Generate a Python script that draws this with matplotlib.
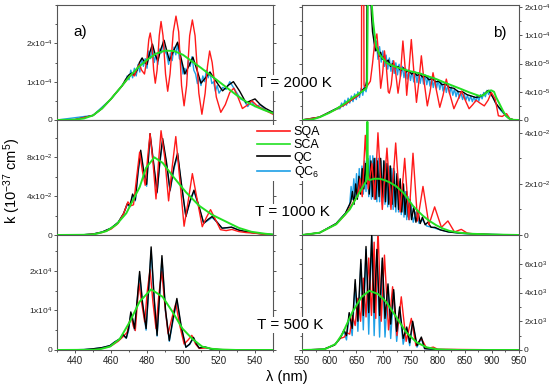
import matplotlib
matplotlib.use("Agg")
import matplotlib.pyplot as plt
from matplotlib.lines import Line2D
from matplotlib.ticker import FixedLocator, MultipleLocator

plt.rcParams["font.family"] = ["Liberation Sans", "DejaVu Sans"]
plt.rcParams["mathtext.fontset"] = "custom"
plt.rcParams["mathtext.rm"] = "Liberation Sans"
plt.rcParams["mathtext.it"] = "Liberation Sans:italic"

# ---- T = 2000 K, left (units 1e-4) ----
tl_sca_nm = [430, 440, 445, 450, 455, 460, 465, 470, 475, 480, 485, 490, 495, 500, 505, 510, 515, 520, 525, 530, 535, 540, 545, 550]
tl_sca_k = [0, 0.01, 0.04, 0.12, 0.3, 0.55, 0.83, 1.12, 1.37, 1.57, 1.73, 1.81, 1.8, 1.7, 1.53, 1.36, 1.18, 1.0, 0.82, 0.64, 0.48, 0.36, 0.26, 0.18]
tl_sqa_nm = [430, 440, 450, 455, 460, 463, 466, 468, 470, 471.5, 473, 474.5, 475.8, 477, 478.6, 480, 481, 481.8, 482.7, 483.7,
             484.6, 485.6, 486.8, 487.8, 488.9, 490.3, 491.5, 492.8, 494.6, 496.1, 497.6, 499.2, 500.6, 502, 503.7, 505.2,
             506.7, 508.8, 510.5, 512.3, 513.6, 514.8, 516.2, 518.5, 521, 523.5, 526, 528.2, 530.5, 533, 535.5, 538.3, 541,
             544, 547, 550]
tl_sqa_k = [0, 0.01, 0.12, 0.3, 0.55, 0.72, 0.88, 1.0, 1.12, 1.2, 1.15, 1.35, 1.45, 1.3, 1.2, 1.6, 2.1, 2.27, 2.0, 1.3,
            0.96, 1.3, 2.2, 2.57, 2.2, 1.2, 0.75, 1.2, 2.3, 2.71, 2.3, 0.9, 0.37, 0.9, 2.2, 2.61,
            2.2, 0.7, 0.15, 0.7, 1.4, 1.8, 1.5, 0.6, 0.2, 0.4, 0.72, 0.83, 0.6, 0.3, 0.38, 0.5, 0.38,
            0.3, 0.22, 0.15]
tl_qc_nm = [430, 440, 450, 455, 460, 463, 466, 468, 470, 471.5, 473, 474.5, 475.8, 477.3, 478.7, 480, 481.5, 483, 484.6,
            486, 487.7, 489.5, 491, 492.5, 494.7, 497, 499, 501, 503.2, 505.5, 507.8, 510, 512.5, 515, 518.5, 522, 525,
            528, 531.5, 535, 537.5, 540, 543, 546, 550]
tl_qc_k = [0, 0.01, 0.12, 0.3, 0.55, 0.72, 0.88, 1.05, 1.18, 1.22, 1.18, 1.3, 1.5, 1.62, 1.5, 1.45, 1.75, 1.98, 1.7,
           1.54, 1.85, 2.08, 1.8, 1.55, 1.8, 2.03, 1.6, 1.2, 1.4, 1.64, 1.3, 0.96, 1.1, 1.25, 1.0, 0.76, 0.9,
           1.0, 0.75, 0.45, 0.5, 0.55, 0.4, 0.3, 0.2]
tl_qc6_nm = [430, 450, 460, 465, 468, 469, 470, 471, 472, 473, 474, 475, 476, 477, 478, 479, 480, 481, 482, 483, 484, 485,
             486, 487, 488, 489, 490, 491, 492, 493, 494, 495, 496, 497, 498, 499, 500, 501, 502, 503, 504, 505, 506,
             507, 508, 509, 510, 511, 512, 513, 514, 515, 516, 517, 518, 519, 520, 522, 524, 526, 528, 530, 532, 534,
             536, 538, 540, 543, 546, 550]
tl_qc6_k = [0, 0.12, 0.55, 0.83, 1.0, 1.15, 1.05, 1.3, 1.1, 1.35, 1.15, 1.45, 1.25, 1.6, 1.4, 1.6, 1.35, 1.8, 1.6, 1.95, 1.5, 1.7,
            1.45, 1.85, 1.75, 2.05, 1.8, 1.7, 1.45, 1.75, 1.55, 1.9, 1.7, 2.0, 1.6, 1.55, 1.2, 1.35, 1.2, 1.55, 1.4, 1.65, 1.3,
            1.2, 0.95, 1.1, 0.9, 1.15, 1.0, 1.3, 1.1, 1.25, 0.95, 1.0, 0.75, 0.9, 0.7, 0.85, 0.8, 1.0, 0.85, 0.7, 0.55, 0.5,
            0.35, 0.5, 0.35, 0.4, 0.25, 0.2]

# ---- T = 2000 K, right (units 1e-5) ----
tr_sca_nm = [550, 570, 582.6, 600, 613, 630, 644, 660, 668.6, 670, 671.5, 673, 675, 678, 681, 684, 687, 693, 705.5, 720, 736,
             750, 767, 782, 797.6, 813, 828, 843, 859, 870, 877.5, 884, 890, 895, 899, 904, 908, 914, 920.5, 926, 933, 940, 950]
tr_sca_k = [0, 0.1, 0.4, 1.0, 1.55, 2.4, 3.2, 4.0, 4.5, 5.0, 20, 30, 30, 17, 14, 12, 10.3, 9.3, 8.1, 7.6, 7.2,
            6.9, 6.6, 6.2, 5.8, 5.3, 4.85, 4.4, 3.9, 3.6, 3.4, 3.5, 3.9, 4.15, 4.2, 4.0, 3.2, 2.3, 1.3, 0.6, 0.15, 0.02, 0]
tr_sqa_nm = [550, 582, 613, 630, 644, 652, 657, 659.5, 660.3, 663.5, 664.3, 666, 670, 676, 680, 684, 688, 691.5, 695, 698.5,
             702, 705.5, 709, 711, 714.5, 719, 723, 727, 731, 736, 740, 743, 747, 751.5, 756, 761, 765.5, 770, 775, 781,
             786, 791.5, 797, 804, 810, 816, 822, 830, 837, 844, 851, 858, 865, 871, 878, 886, 893, 899, 906, 912, 919,
             927, 933, 940, 950]
tr_sqa_k = [0, 0.4, 1.5, 2.2, 3.0, 3.4, 3.8, 4.2, 30, 30, 5.0, 4.7, 4.8, 5.5, 8, 11, 12.2, 9, 4.5, 6.5,
            9.8, 7.5, 4.0, 3.8, 5.0, 8.4, 6.5, 3.8, 6.0, 11.2, 7.5, 3.5, 7.0, 11.4, 7.0, 2.5, 5.5, 9.1, 5.5, 2.0,
            4.0, 6.7, 4.5, 1.8, 3.5, 5.8, 3.8, 1.6, 2.8, 4.1, 2.8, 1.6, 2.2, 2.8, 2.4, 2.0, 2.8, 3.9, 3.0, 0.6, 0.5,
            0.9, 0.2, 0.02, 0]
tr_qc_nm = [550, 582, 613, 630, 644, 655, 662, 667, 669, 670.5, 672, 674, 676, 678, 680, 683, 686, 689, 692, 695, 698, 701,
            705, 709, 713, 717, 722, 727, 732, 737, 742, 747, 752, 757, 762, 767, 772, 778, 784, 790, 796, 802, 808, 815,
            822, 830, 838, 846, 854, 862, 870, 878, 885, 890, 894, 898, 903, 908, 914, 920, 926, 932, 940, 950]
tr_qc_k = [0, 0.4, 1.6, 2.3, 3.0, 3.6, 4.3, 4.6, 5.5, 25, 30, 30, 20, 15, 12.5, 11, 9.8, 10.2, 9.0, 9.6, 8.6, 9.0,
           8.2, 8.5, 7.6, 8.0, 7.4, 7.6, 7.0, 7.4, 6.8, 7.0, 6.5, 6.8, 6.3, 6.5, 6.1, 6.2, 5.7, 5.9, 5.4, 5.5, 5.0, 5.1,
           4.6, 4.5, 4.0, 4.0, 3.6, 3.4, 3.2, 3.3, 3.6, 4.0, 4.2, 3.8, 3.0, 2.3, 1.7, 1.2, 0.6, 0.2, 0.02, 0]
tr_qc6_nm = [550, 582, 613, 620, 623, 626, 629, 632, 635, 638, 641, 644, 647, 650, 653, 656, 659, 662, 665, 668, 670, 672,
             675, 678, 681, 684, 687, 690, 693, 696, 699, 702, 705, 708, 711, 714, 717, 720, 723, 726, 729, 732, 735, 738,
             741, 744, 747, 750, 753, 756, 759, 762, 765, 768, 771, 774, 777, 780, 783, 786, 789, 792, 795, 798, 801, 804,
             807, 810, 813, 816, 819, 822, 825, 828, 831, 834, 837, 840, 843, 846, 849, 852, 855, 858, 861, 864, 867, 870,
             873, 876, 879, 882, 885, 888, 891, 894, 897, 900, 903, 906, 910, 916, 922, 930, 940, 950]
tr_qc6_k = [0, 0.4, 1.6, 1.6, 2.4, 1.9, 2.8, 2.1, 3.1, 2.4, 3.4, 2.6, 3.7, 2.9, 4.0, 3.2, 4.5, 3.5, 4.9, 4.0, 5.0, 30,
            30, 16, 13.5, 9.8, 11.2, 8.6, 10.4, 8.2, 9.8, 7.6, 9.2, 7.2, 8.8, 6.9, 8.4, 6.6, 8.1, 6.4, 7.9, 6.2, 7.6, 6.0,
            7.3, 5.8, 7.1, 5.6, 6.9, 5.4, 6.8, 5.3, 6.7, 5.2, 6.6, 5.1, 6.4, 5.0, 6.2, 4.8, 6.0, 4.6, 5.9, 4.5, 5.7, 4.3,
            5.5, 4.1, 5.2, 3.9, 5.0, 3.7, 4.7, 3.5, 4.4, 3.3, 4.2, 3.1, 3.9, 2.9, 3.7, 2.8, 3.5, 2.7, 3.4, 2.6, 3.3, 2.6,
            3.4, 2.7, 3.6, 3.0, 3.9, 3.3, 4.2, 3.6, 4.1, 3.4, 3.2, 2.5, 2.0, 1.4, 0.9, 0.3, 0.02, 0]

# ---- T = 1000 K, left (units 1e-2) ----
ml_sca_nm = [430, 445, 450, 452, 457.5, 463, 468.5, 472.2, 475.9, 479.5, 484.1, 488.7, 494.2, 501.6, 509, 516.2, 523.6, 531, 538, 545.6, 550]
ml_sca_k = [0, 0.02, 0.06, 0.13, 0.4, 1.07, 2.23, 3.57, 4.9, 6.9, 7.97, 7.4, 6.07, 4.4, 3.0, 2.07, 1.4, 0.73, 0.33, 0.13, 0.05]
ml_sqa_nm = [430, 445, 450, 455, 460, 464, 467, 469.4, 471, 472.5, 474.3, 475.9, 477.5, 479, 480.4, 481.7, 483.3, 485,
             486.4, 487.8, 489.8, 492, 494, 496, 498.3, 500.6, 502.9, 505.2, 508, 510.7, 513, 515.3, 518, 520.8, 524,
             527.2, 531, 535, 540, 545, 550]
ml_sqa_k = [0, 0.02, 0.08, 0.25, 0.6, 1.2, 2.2, 3.4, 3.0, 3.1, 6.0, 8.5, 6.5, 5.1, 8.0, 10.4, 7.5, 3.7,
            7.5, 10.7, 8.0, 3.5, 7.0, 10.1, 5.5, 0.9, 3.5, 6.3, 3.5, 0.85, 1.8, 2.6, 1.6, 0.55, 0.45,
            0.57, 0.35, 0.25, 0.18, 0.08, 0.03]
ml_qc_nm = [430, 445, 450, 455, 460, 464, 467, 469, 470.5, 472, 473.5, 475, 476.5, 478, 479.8, 480.8, 481.7, 483.6, 485.6,
            487.1, 488.7, 490.8, 492.8, 495, 497, 499.3, 501.6, 503.9, 506.1, 508.8, 511.5, 513.9, 516.2, 519, 521.7,
            524.5, 527, 531, 535, 540, 545, 550]
ml_qc_k = [0, 0.03, 0.1, 0.3, 0.7, 1.3, 2.2, 3.2, 3.0, 4.2, 3.6, 6.5, 8.7, 6.8, 5.2, 8.0, 10.4, 7.5, 4.4,
           7.5, 9.9, 7.5, 4.6, 7.0, 8.4, 5.0, 1.9, 3.5, 4.6, 3.0, 1.2, 1.6, 1.9, 1.3, 0.7,
           0.75, 0.8, 0.5, 0.35, 0.2, 0.1, 0.04]
ml_qc6_nm = ml_qc_nm
ml_qc6_k = [0, 0.03, 0.1, 0.3, 0.7, 1.3, 2.2, 3.1, 2.9, 4.0, 3.5, 6.3, 8.4, 6.6, 5.0, 7.8, 10.1, 7.3, 4.3,
            7.3, 9.6, 7.3, 4.5, 6.8, 8.2, 4.9, 1.9, 3.4, 4.5, 2.9, 1.2, 1.5, 1.8, 1.3, 0.7,
            0.75, 0.8, 0.5, 0.35, 0.2, 0.1, 0.04]

# ---- T = 1000 K, right (units 1e-2) ----
mr_sca_nm = [550, 582.6, 613, 638, 656, 668.6, 669.5, 670.5, 671.5, 672.5, 674.7, 683, 693, 702, 711.6, 724, 736, 745, 754.6,
             764, 773, 785, 797.6, 810, 822, 840, 859, 900, 950]
mr_sca_k = [0, 0.09, 0.42, 1.0, 1.67, 2.12, 2.5, 4.43, 2.3, 2.18, 2.15, 2.2, 2.2, 2.15, 2.06, 1.9, 1.67, 1.42, 1.14,
            0.93, 0.75, 0.55, 0.38, 0.25, 0.16, 0.09, 0.05, 0.02, 0]
mr_sqa_nm = [550, 582.6, 613, 630, 645, 652, 657, 661, 666.7, 672, 679, 684, 690, 698, 706.6, 714, 722.7, 731, 739.3, 747,
             754.6, 763, 773, 784, 794.5, 807, 819, 831, 843.6, 855, 870, 900, 950]
mr_sqa_k = [0, 0.09, 0.42, 0.8, 1.3, 1.5, 2.2, 1.5, 3.9, 1.8, 2.8, 1.4, 4.0, 1.0, 3.4, 1.0, 3.6, 0.9, 3.0, 0.6,
            3.2, 0.55, 1.9, 0.4, 1.1, 0.3, 0.55, 0.12, 0.22, 0.07, 0.04, 0.01, 0]
mr_qc_nm = [550, 582.6, 613, 630, 640, 643, 646, 649, 652, 655, 658, 661, 664, 667, 669.5, 671, 674, 677, 680, 683, 686,
            689, 692, 695, 698, 701, 704, 707, 710, 713, 716, 719, 722, 725, 728, 731, 734, 737, 740, 743, 746, 749, 752,
            756, 760, 764, 768, 772, 777, 782, 788, 795, 805, 820, 840, 870, 900, 950]
mr_qc_k = [0, 0.09, 0.45, 0.85, 1.3, 1.7, 1.2, 2.0, 1.4, 2.3, 1.6, 2.6, 1.8, 2.8, 2.0, 3.0, 1.6, 2.9, 1.5, 3.0, 1.4,
           2.9, 1.5, 3.0, 1.4, 2.9, 1.3, 2.8, 1.2, 2.7, 1.2, 2.6, 1.1, 2.4, 1.0, 2.2, 0.9, 2.0, 0.8, 1.7, 0.7, 1.4, 0.6,
           1.1, 0.5, 0.9, 0.45, 0.7, 0.4, 0.5, 0.3, 0.3, 0.2, 0.12, 0.08, 0.04, 0.02, 0]
mr_qc6_nm = [550, 582.6, 613, 630, 638, 640.5, 643, 645.5, 648, 650.5, 653, 655.5, 658, 660.5, 663, 665.5, 668, 670.5, 673,
             675.5, 678, 680.5, 683, 685.5, 688, 690.5, 693, 695.5, 698, 700.5, 703, 705.5, 708, 710.5, 713, 715.5, 718,
             720.5, 723, 725.5, 728, 730.5, 733, 735.5, 738, 740.5, 743, 745.5, 748, 751, 755, 760, 766, 772, 780, 790,
             805, 820, 850, 900, 950]
mr_qc6_k = [0, 0.09, 0.45, 0.85, 1.2, 1.9, 1.4, 2.2, 1.5, 2.4, 1.5, 2.6, 1.7, 2.7, 1.6, 2.9, 1.7, 3.0, 1.5, 3.1,
            1.4, 3.1, 1.4, 3.0, 1.3, 3.0, 1.3, 2.9, 1.2, 2.9, 1.2, 2.8, 1.1, 2.7, 1.1, 2.6, 1.0, 2.5, 0.9, 2.3, 0.9,
            2.1, 0.8, 1.9, 0.7, 1.7, 0.6, 1.5, 0.6, 1.2, 0.5, 0.9, 0.45, 0.6, 0.35, 0.3, 0.2, 0.12, 0.05, 0.02, 0]

# ---- T = 500 K, left (units 1e4) ----
bl_sca_nm = [430, 450, 453.9, 459.4, 464.9, 470.4, 475.9, 482.3, 488.7, 494.2, 499.7, 505.2, 510.7, 516, 522, 530, 550]
bl_sca_k = [0, 0.005, 0.02, 0.085, 0.28, 0.71, 1.22, 1.53, 1.34, 0.96, 0.54, 0.28, 0.085, 0.03, 0.01, 0, 0]
bl_sqa_nm = [430, 450, 455, 460, 464, 467, 469, 470.2, 471.3, 472.4, 473.5, 474.5, 475.5, 477, 478.7, 480.2, 481.7, 483.3,
             485, 486.6, 488.2, 490, 491.7, 493.8, 496, 498.3, 500.6, 502.8, 504.9, 507, 509, 513, 520, 550]
bl_sqa_k = [0, 0.01, 0.04, 0.1, 0.22, 0.35, 0.45, 0.7, 0.83, 0.6, 0.49, 1.1, 1.68, 1.2, 0.71, 1.5, 2.03, 1.2,
            0.54, 1.4, 1.98, 1.1, 0.41, 0.8, 1.17, 0.6, 0.15, 0.25, 0.37, 0.15, 0.04, 0.05, 0.01, 0]
bl_qc_nm = [430, 445, 450, 455, 459.4, 462, 464.9, 466.7, 468.5, 469.8, 471, 472, 473.1, 474.6, 475.9, 477.5, 479.5, 481,
            482.3, 484, 485.6, 487, 488.3, 490.3, 492.4, 494.5, 496.6, 499, 501.6, 503.7, 505.8, 507.5, 509, 512, 516,
            520, 530, 550]
bl_qc_k = [0, 0.01, 0.03, 0.06, 0.11, 0.2, 0.28, 0.39, 0.3, 0.55, 0.96, 0.8, 0.54, 1.3, 1.98, 1.2, 0.54, 1.6,
           2.6, 1.3, 0.37, 1.4, 2.38, 1.0, 0.24, 0.8, 1.3, 0.6, 0.07, 0.15, 0.32, 0.15, 0.05, 0.08, 0.02,
           0.01, 0, 0]
bl_qc6_nm = bl_qc_nm
bl_qc6_k = [0, 0.01, 0.03, 0.06, 0.11, 0.2, 0.28, 0.37, 0.3, 0.5, 0.9, 0.75, 0.5, 1.25, 1.9, 1.15, 0.5, 1.55,
            2.5, 1.25, 0.35, 1.35, 2.3, 0.95, 0.22, 0.75, 1.25, 0.55, 0.07, 0.14, 0.3, 0.14, 0.05, 0.07, 0.02,
            0.01, 0, 0]

# ---- T = 500 K, right (units 1e3) ----
br_sca_nm = [550, 575, 593, 612, 624.4, 643, 660, 674, 690, 705, 723.6, 742, 761, 779.5, 798, 815, 840, 950]
br_sca_k = [0, 0.02, 0.07, 0.42, 1.12, 2.65, 3.7, 4.12, 3.9, 3.35, 2.3, 1.24, 0.54, 0.19, 0.05, 0.02, 0, 0]
br_qc_nm = [550, 590, 610, 620, 627.5, 632, 637, 642.5, 648, 653, 658.5, 663, 668, 673, 678.5, 683, 688, 693, 698, 703,
            708.5, 713.5, 719, 724.5, 730, 736.5, 743, 748.5, 754, 762, 770, 776, 785, 800, 950]
br_qc_k = [0, 0.05, 0.35, 0.8, 1.4, 1.0, 2.6, 1.5, 4.9, 2.0, 6.3, 2.4, 7.2, 2.6, 8.0, 2.6, 7.0, 2.4, 6.4, 2.2,
           4.6, 1.8, 4.2, 1.3, 3.0, 0.8, 1.6, 0.5, 2.0, 0.3, 0.9, 0.1, 0.08, 0.03, 0]
br_sqa_nm = [550, 590, 610, 620, 628, 633, 638, 643, 648, 653, 658, 663, 668, 673, 678, 683, 686, 690, 696, 702, 709.5, 717,
             725, 733, 742, 751.5, 760, 770, 780, 792, 800, 950]
br_sqa_k = [0, 0.05, 0.35, 0.8, 0.9, 1.2, 1.1, 2.4, 1.7, 3.6, 2.0, 5.0, 2.3, 6.4, 2.4, 7.5, 2.2, 8.5, 2.0, 6.6, 1.4, 4.4,
            1.0, 3.7, 0.6, 2.2, 0.3, 0.8, 0.1, 0.2, 0.05, 0]
br_qc6_nm = br_qc_nm
br_qc6_k = [0, 0.05, 0.35, 0.8, 1.3, 0.7, 2.5, 1.0, 4.6, 1.3, 6.0, 1.4, 7.0, 1.1, 7.9, 1.0, 6.8, 0.9, 6.2, 0.9,
            4.4, 0.8, 4.0, 0.6, 2.8, 0.4, 1.5, 0.3, 1.9, 0.2, 0.8, 0.1, 0.05, 0.02, 0]

# axis settings per panel: ylim top, tick values, tick labels (same units as data)
tl_ylim, tl_ticks, tl_labels = 3.0, [0, 1, 2], ["0", "1x10$^{-4}$", "2x10$^{-4}$"]
tr_ylim, tr_ticks, tr_labels = 16.3, [0, 4, 8, 12, 16], ["0", "4x10$^{-5}$", "8x10$^{-5}$", "1x10$^{-4}$", "2x10$^{-4}$"]
ml_ylim, ml_ticks, ml_labels = 11.8, [0, 4, 8], ["0", "4x10$^{-2}$", "8x10$^{-2}$"]
mr_ylim, mr_ticks, mr_labels = 4.5, [0, 2, 4], ["0", "2x10$^{-2}$", "4x10$^{-2}$"]
bl_ylim, bl_ticks, bl_labels = 2.9, [0, 1, 2], ["0", "1x10$^{4}$", "2x10$^{4}$"]
br_ylim, br_ticks, br_labels = 8.0, [0, 2, 4, 6], ["0", "2x10$^{3}$", "4x10$^{3}$", "6x10$^{3}$"]

left_ticks = [440, 460, 480, 500, 520, 540]
right_ticks = [550, 600, 650, 700, 750, 800, 850, 900, 950]
series_names = ["SQA", "SCA", "QC", "QC$_6$"]
COLORS = {"SQA": "#ff1a1a", "SCA": "#22e022", "QC": "#000000", "QC6": "#1ea0e6"}
AXIS_GREY = "#555555"

W, H = 550, 390
ROW_TOP = [5, 120, 235]
ROW_H = 115


def _panel(fig, x0, width, row, side, xlim, xticks, minor_x, curves, ylim, yticks, ylabels):
    ax = fig.add_axes([x0 / W, 1 - (ROW_TOP[row] + ROW_H) / H, width / W, ROW_H / H])
    qc6, sqa, qc, sca = curves
    red_z = 2 if row == 2 else 3.5
    ax.plot(*qc6, color=COLORS["QC6"], lw=1.0, zorder=1)
    ax.plot(*sqa, color=COLORS["SQA"], lw=1.0, zorder=red_z)
    ax.plot(*qc, color=COLORS["QC"], lw=1.0, zorder=3)
    ax.plot(*sca, color=COLORS["SCA"], lw=1.4, zorder=4)
    ax.set_xlim(*xlim)
    ax.set_ylim(0, ylim)
    ax.xaxis.set_major_locator(FixedLocator(xticks))
    ax.xaxis.set_minor_locator(MultipleLocator(minor_x))
    ax.yaxis.set_major_locator(FixedLocator(yticks))
    ax.yaxis.set_minor_locator(MultipleLocator((yticks[1] - yticks[0]) / 2))
    ax.set_yticklabels(ylabels)
    for spine in ax.spines.values():
        spine.set_color(AXIS_GREY)
        spine.set_linewidth(0.8)
    ax.tick_params(which="both", colors=AXIS_GREY, labelcolor="#222222", labelsize=6,
                   direction="out", width=0.7)
    ax.tick_params(which="major", length=2.5)
    ax.tick_params(which="minor", length=1.5)
    ax.tick_params(axis="y", which="both", left=True, right=True,
                   labelleft=(side == "left"), labelright=(side == "right"), pad=0.8)
    ax.tick_params(axis="x", which="both", labelbottom=(row == 2), pad=2)
    ax.tick_params(axis="x", labelsize=7)
    return ax


fig = plt.figure(figsize=(W / 100, H / 100), dpi=100)

left_panels = [
    ((tl_qc6_nm, tl_qc6_k), (tl_sqa_nm, tl_sqa_k), (tl_qc_nm, tl_qc_k), (tl_sca_nm, tl_sca_k), tl_ylim, tl_ticks, tl_labels),
    ((ml_qc6_nm, ml_qc6_k), (ml_sqa_nm, ml_sqa_k), (ml_qc_nm, ml_qc_k), (ml_sca_nm, ml_sca_k), ml_ylim, ml_ticks, ml_labels),
    ((bl_qc6_nm, bl_qc6_k), (bl_sqa_nm, bl_sqa_k), (bl_qc_nm, bl_qc_k), (bl_sca_nm, bl_sca_k), bl_ylim, bl_ticks, bl_labels),
]
right_panels = [
    ((tr_qc6_nm, tr_qc6_k), (tr_sqa_nm, tr_sqa_k), (tr_qc_nm, tr_qc_k), (tr_sca_nm, tr_sca_k), tr_ylim, tr_ticks, tr_labels),
    ((mr_qc6_nm, mr_qc6_k), (mr_sqa_nm, mr_sqa_k), (mr_qc_nm, mr_qc_k), (mr_sca_nm, mr_sca_k), mr_ylim, mr_ticks, mr_labels),
    ((br_qc6_nm, br_qc6_k), (br_sqa_nm, br_sqa_k), (br_qc_nm, br_qc_k), (br_sca_nm, br_sca_k), br_ylim, br_ticks, br_labels),
]

for row, (c1, c2, c3, c4, ylim, yt, yl) in enumerate(left_panels):
    _panel(fig, 57, 216, row, "left", (430, 550), left_ticks, 10, (c1, c2, c3, c4), ylim, yt, yl)
for row, (c1, c2, c3, c4, ylim, yt, yl) in enumerate(right_panels):
    _panel(fig, 302, 217, row, "right", (550, 950), right_ticks, 25, (c1, c2, c3, c4), ylim, yt, yl)

# panel tags and temperatures
fig.text(80 / W, 1 - 32 / H, "a)", fontsize=11, ha="center", va="center")
fig.text(500 / W, 1 - 33 / H, "b)", fontsize=11, ha="center", va="center")
for label, (xc, yc) in zip(["T = 2000 K", "T = 1000 K", "T = 500 K"], [(294, 83), (292, 212), (290, 325)]):
    fig.text(xc / W, 1 - yc / H, label, fontsize=11, ha="center", va="center", zorder=10,
             bbox=dict(facecolor="white", edgecolor="none", pad=0.5))

fig.text(12 / W, 1 - 181 / H, "k (10$^{-37}$ cm$^5$)", fontsize=10.5, rotation=90, ha="center", va="center")
fig.text(287 / W, 1 - 377 / H, "λ (nm)", fontsize=10.5, ha="center", va="center")

handles = [Line2D([], [], color=COLORS[k], lw=1.2) for k in ["SQA", "SCA", "QC", "QC6"]]
leg = fig.legend(handles, series_names, loc="upper left", bbox_to_anchor=(256 / W, 1 - 125 / H),
                 fontsize=9, frameon=True, facecolor="white", edgecolor="none", framealpha=1,
                 handlelength=2.6, handletextpad=0.3, labelspacing=0.05, borderpad=0.1, borderaxespad=0)
leg.set_zorder(10)

fig.savefig("out.png", dpi=100)
